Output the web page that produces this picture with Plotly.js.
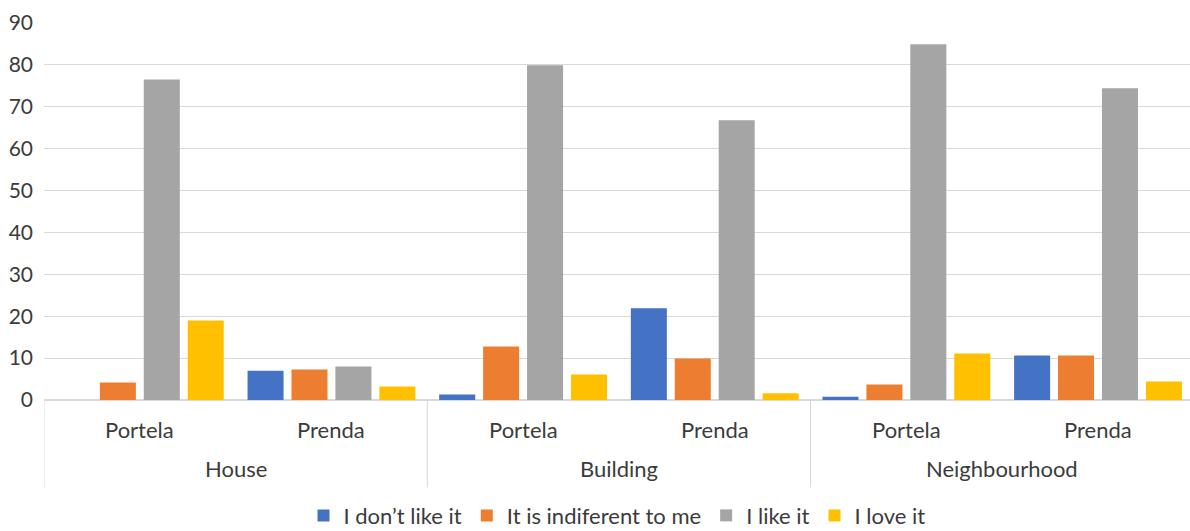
<!DOCTYPE html>
<html>
<head>
<meta charset="utf-8">
<script src="https://cdn.plot.ly/plotly-3.0.1.min.js"></script>
<style>html,body{margin:0;padding:0;background:#fff;}#chart{width:1190px;height:531px;}</style>
</head>
<body>
<div id="chart"></div>
<script>
const groups = ["House", "House", "Building", "Building", "Neighbourhood", "Neighbourhood"];
const sites = ["Portela", "Prenda", "Portela", "Prenda", "Portela", "Prenda"];
const seriesNames = ["I don’t like it", "It is indiferent to me", "I like it", "I love it"];
const dontLike = [0, 7.0, 1.3, 21.9, 0.8, 10.6];
const indifferent = [4.2, 7.3, 12.8, 9.9, 3.7, 10.6];
const like = [76.5, 8.0, 79.9, 66.8, 84.9, 74.4];
const love = [19.0, 3.2, 6.1, 1.6, 11.1, 4.4];
const yTicks = [0, 10, 20, 30, 40, 50, 60, 70, 80, 90];

const colors = ["#4472c4", "#ed7d31", "#a5a5a5", "#ffc000"];
const values = [dontLike, indifferent, like, love];
const font = "Lato, 'Open Sans', sans-serif";
const textColor = "#3b3b3b";
const lineColor = "#d9d9d9";

// unique category keys built from the two label arrays
const cats = groups.map((g, i) => g + "|" + sites[i]);

const traces = values.map((v, i) => ({
  type: "bar",
  name: seriesNames[i],
  x: cats,
  y: v,
  marker: {color: colors[i]}
}));

// inner (site) labels
const annotations = cats.map((c, i) => ({
  x: c, xref: "x", y: -0.078, yref: "paper",
  text: sites[i], showarrow: false, yanchor: "middle",
  font: {family: font, size: 22, color: textColor}
}));

// outer (group) labels and dividers, derived from the groups array
const shapes = [];
let start = 0;
for (let i = 1; i <= groups.length; i++) {
  if (i === groups.length || groups[i] !== groups[start]) {
    annotations.push({
      x: (start + i - 1) / 2, xref: "x", y: -0.183, yref: "paper",
      text: groups[start], showarrow: false, yanchor: "middle",
      font: {family: font, size: 22, color: textColor}
    });
    start = i;
  }
}
const boundaries = [-0.5];
for (let i = 1; i < groups.length; i++) if (groups[i] !== groups[i - 1]) boundaries.push(i - 0.5);
boundaries.forEach(b => shapes.push({
  type: "line", xref: "x", yref: "paper", x0: b, x1: b, y0: 0, y1: -0.232,
  line: {color: lineColor, width: 1}
}));

const layout = {
  width: 1190, height: 531,
  margin: {l: 44, r: 0, t: 23, b: 131},
  paper_bgcolor: "#fff", plot_bgcolor: "#fff",
  font: {family: font, size: 22, color: textColor},
  barmode: "group",
  bargap: 0.083,
  bargroupgap: 0.18,
  showlegend: true,
  legend: {
    orientation: "h", x: 0.5, xanchor: "center",
    yref: "container", y: 0.029, yanchor: "middle",
    font: {family: font, size: 22, color: textColor},
    itemwidth: 30, tracegroupgap: 0
  },
  annotations: annotations,
  shapes: shapes,
  xaxis: {
    type: "category", range: [-0.5, 5.48],
    showline: false, showticklabels: false,
    ticks: "", showgrid: false, zeroline: false
  },
  yaxis: {
    range: [0, 90], tickvals: yTicks, ticktext: yTicks.map(String),
    showgrid: true, gridcolor: lineColor, gridwidth: 1,
    zeroline: true, zerolinecolor: lineColor, zerolinewidth: 1.5,
    showline: false, ticks: "", ticklabelstandoff: 10,
    tickfont: {family: font, size: 21, color: textColor}
  }
};

Plotly.newPlot("chart", traces, layout, {displayModeBar: false, staticPlot: true});
</script>
</body>
</html>
